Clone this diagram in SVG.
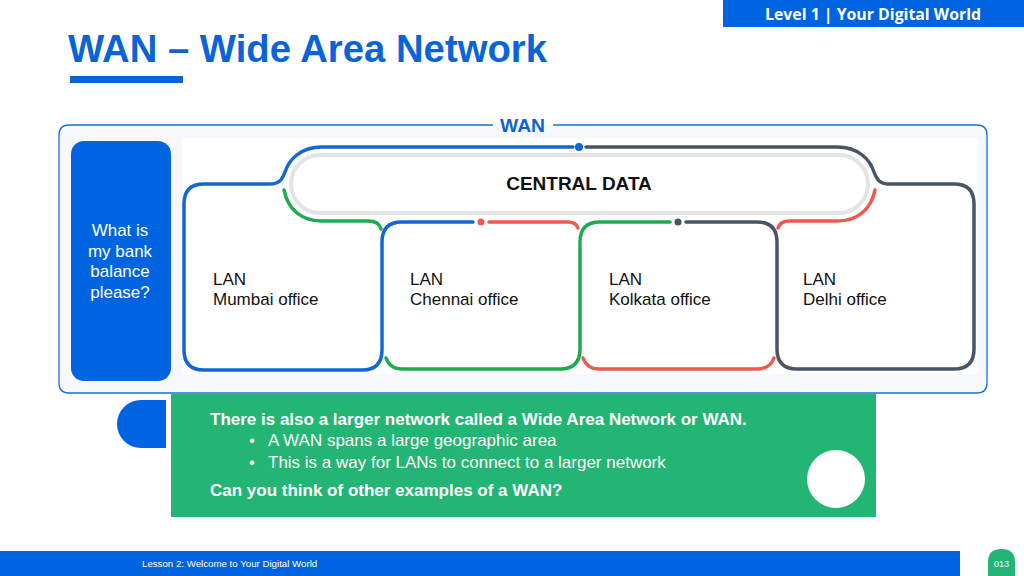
<svg xmlns="http://www.w3.org/2000/svg" width="1024" height="576" viewBox="0 0 1024 576">
<style>
.sans{font-family:"Liberation Sans",Arial,sans-serif}
.trk{fill:none;stroke-width:3.5;stroke-linecap:round;stroke-linejoin:round}
.blue{stroke:#1266d6}.green{stroke:#1eab4f}.red{stroke:#ee5a4f}.grey{stroke:#4a5563}
.lan{font-family:"Liberation Sans",Arial,sans-serif;font-size:17px;fill:#111}
.wt{fill:#fff;font-family:"Liberation Sans",Arial,sans-serif;font-size:17px}
</style>
<rect width="1024" height="576" fill="#fff"/>
<g id="header">
<rect x="723" y="0" width="301" height="27" fill="#0064e0"/>
<text x="873" y="20" text-anchor="middle" font-family="'Open Sans','Liberation Sans',sans-serif" font-weight="bold" font-size="16" fill="#fff" textLength="216" lengthAdjust="spacingAndGlyphs">Level 1 | Your Digital World</text>
<text x="68" y="62" class="sans" font-weight="bold" font-size="39" fill="#0a64d8" textLength="479" lengthAdjust="spacingAndGlyphs">WAN – Wide Area Network</text>
<rect x="70" y="76" width="113" height="7" fill="#0a64d8"/>
</g>
<g id="wan-frame">
<path d="M493 125 H69 Q59 125 59 135 V383 Q59 393 69 393 H977 Q987 393 987 383 V135 Q987 125 977 125 H553" fill="#f7f8f9" stroke="#1a6fd6" stroke-width="1.3"/>
<rect x="182" y="138" width="796" height="236" fill="#fff"/>
<text x="500" y="132" class="sans" font-weight="bold" font-size="18" fill="#0a64d8" textLength="45" lengthAdjust="spacingAndGlyphs">WAN</text>
</g>
<g id="question">
<rect x="71" y="141" width="100" height="240" rx="13" fill="#0064e0"/>
<text class="wt" text-anchor="middle" font-size="17.5"><tspan x="120" y="236">What is</tspan><tspan x="120" y="257">my bank</tspan><tspan x="120" y="277">balance</tspan><tspan x="120" y="298">please?</tspan></text>
</g>
<g id="central-data">
<rect x="291" y="155" width="577" height="58" rx="29" fill="#fff" stroke="#e4e4e4" stroke-width="4"/>
<text x="579" y="190" text-anchor="middle" class="sans" font-weight="bold" font-size="19" fill="#111">CENTRAL DATA</text>
</g>
<g id="connectors">
<path class="trk blue" d="M573 147 L322 147 C300 147 289 160 285 172 C282 180 279 184 270 184 L204 184 Q184 184 184 204 L184 350 Q184 370 204 370 L362 370 Q382 370 382 350 L382 242 Q382 222 402 222 L473 222"/>
<path class="trk grey" d="M586 147 L837 147 C859 147 870 160 874 172 C877 180 880 184 889 184 L954 184 Q974 184 974 204 L974 349 Q974 369 954 369 L797 369 Q777 369 777 349 L777 242 Q777 222 757 222 L686 222"/>
<path class="trk green" d="M284 190 C288 210 302 221 322 221 L368 221 Q379 221 381 229"/>
<path class="trk green" d="M386 358 Q390 369 402 369 L560 369 Q580 369 580 349 L580 242 Q580 222 600 222 L670 222"/>
<path class="trk red" d="M489 222 L568 222 Q576 222 578 228"/>
<path class="trk red" d="M875 190 C871 210 857 221 837 221 L790 221 Q780 221 778 228"/>
<path class="trk red" d="M583 358 Q587 369 599 369 L757 369 Q770 369 774 358"/>
<circle cx="579" cy="147" r="4" fill="#1266d6"/>
<circle cx="481" cy="222" r="3.5" fill="#ee5a4f"/>
<circle cx="678" cy="222" r="3.5" fill="#4a5563"/>
</g>
<g id="lan-mumbai"><text class="lan"><tspan x="213" y="285">LAN</tspan><tspan x="213" y="305">Mumbai office</tspan></text></g>
<g id="lan-chennai"><text class="lan"><tspan x="410" y="285">LAN</tspan><tspan x="410" y="305">Chennai office</tspan></text></g>
<g id="lan-kolkata"><text class="lan"><tspan x="609" y="285">LAN</tspan><tspan x="609" y="305">Kolkata office</tspan></text></g>
<g id="lan-delhi"><text class="lan"><tspan x="803" y="285">LAN</tspan><tspan x="803" y="305">Delhi office</tspan></text></g>
<g id="info">
<path d="M166 400 V448 H141 A24 24 0 0 1 141 400 Z" fill="#0064e0"/>
<rect x="171" y="394" width="705" height="123" fill="#22b573"/>
<circle cx="836" cy="479" r="29" fill="#fff"/>
<text x="210" y="425" class="wt" font-weight="bold">There is also a larger network called a Wide Area Network or WAN.</text>
<text x="249" y="446" class="wt">•</text>
<text x="268" y="446" class="wt">A WAN spans a large geographic area</text>
<text x="249" y="468" class="wt">•</text>
<text x="268" y="468" class="wt">This is a way for LANs to connect to a larger network</text>
<text x="210" y="496" class="wt" font-weight="bold">Can you think of other examples of a WAN?</text>
</g>
<g id="footer">
<rect x="0" y="551" width="960" height="25" fill="#0064e0"/>
<text x="142" y="567" class="sans" font-size="9.7" fill="#fff">Lesson 2: Welcome to Your Digital World</text>
<path d="M988 576 V562 Q988 549 1001.5 549 Q1015 549 1015 562 V576 Z" fill="#22b573"/>
<text x="1001.5" y="567" text-anchor="middle" class="sans" font-size="9" fill="#fff">013</text>
</g>
</svg>
